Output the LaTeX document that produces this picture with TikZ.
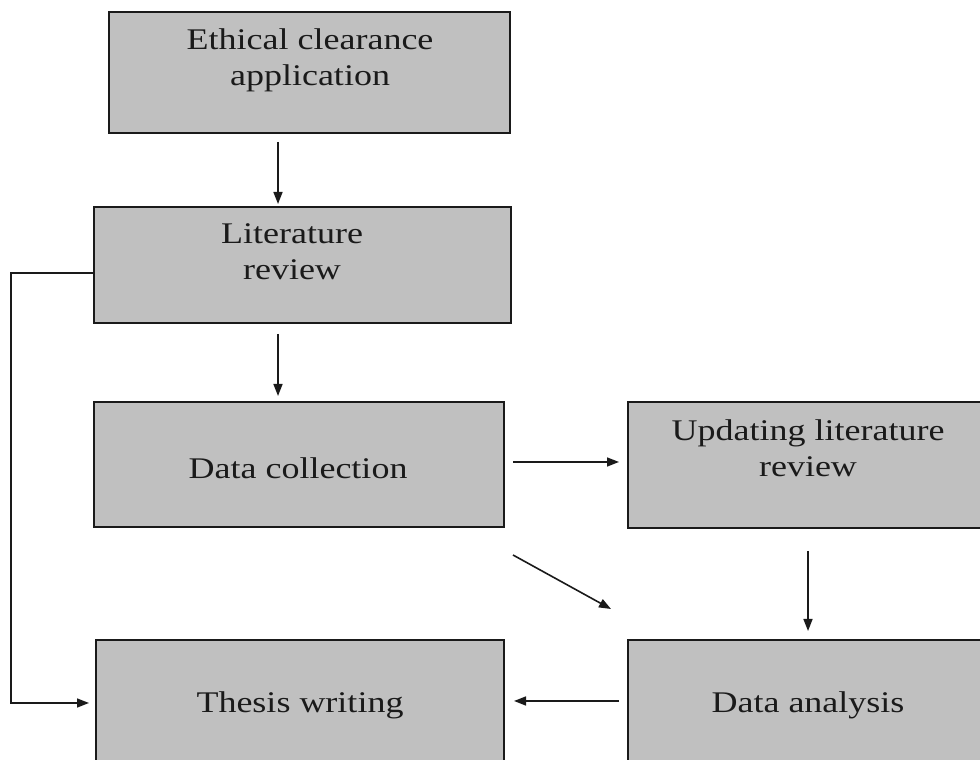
\documentclass[tikz,border=0pt]{standalone}
\usepackage{fontspec}
\setmainfont{Liberation Serif}[FakeStretch=1.2]
\usetikzlibrary{arrows.meta}
\definecolor{boxgray}{HTML}{C0C0C0}
\definecolor{ink}{HTML}{1A1A1A}
\begin{document}
\begin{tikzpicture}[x=1pt,y=1pt,
  box/.style={draw=ink, line width=2pt, fill=boxgray, inner sep=0pt},
  lbl/.style={font=\fontsize{30}{36}\selectfont, align=center, text=ink},
  arr/.style={-{Triangle[length=12pt,width=9pt]}, line width=1.6pt, draw=ink}]
\clip (0,0) rectangle (980,760);
% boxes
\node[box, minimum width=401pt, minimum height=121pt] (eth) at (309.5,687.5) {};
\node[box, minimum width=417pt, minimum height=116pt] (lit) at (302.5,495) {};
\node[box, minimum width=410pt, minimum height=125pt] (dc) at (299,295.5) {};
\node[box, minimum width=362pt, minimum height=126pt] (ulr) at (809,295) {};
\node[box, minimum width=408pt, minimum height=150pt] (th) at (300,45) {};
\node[box, minimum width=362pt, minimum height=150pt] (da) at (809,45) {};
% labels
\node[lbl] (etht) at (310,700) {Ethical clearance\\application};
\node[lbl] (litt) at (292,508) {Literature\\review};
\node[lbl] (dct) at (298,292) {Data collection};
\node[lbl] (ulrt) at (808,312) {Updating literature\\review};
\node[lbl] (tht) at (300,55) {Thesis writing};
\node[lbl] (dat) at (808,55) {Data analysis};
% connectors
\draw[arr] ([xshift=-31.5pt,yshift=-8pt]eth.south) -- ([xshift=-24.5pt,yshift=2pt]lit.north);
\draw[arr] ([xshift=-24.5pt,yshift=-10pt]lit.south) -- ([xshift=-21pt,yshift=5pt]dc.north);
\draw[arr] ([xshift=8pt,yshift=2.5pt]dc.east) -- ([xshift=-8pt,yshift=3pt]ulr.west);
\draw[arr] ([xshift=-1pt,yshift=-22pt]ulr.south) -- ([xshift=-1pt,yshift=8pt]da.north);
\draw[arr] ([xshift=8pt,yshift=-27pt]dc.south east) -- ([xshift=-16pt,yshift=30pt]da.north west);
\draw[arr] ([xshift=-8pt,yshift=14pt]da.west) -- ([xshift=9pt,yshift=14pt]th.east);
\draw[arr] ([yshift=-8pt]lit.west) -- ++(-82,0) |- ([xshift=-6pt,yshift=12pt]th.west);
\end{tikzpicture}
\end{document}
